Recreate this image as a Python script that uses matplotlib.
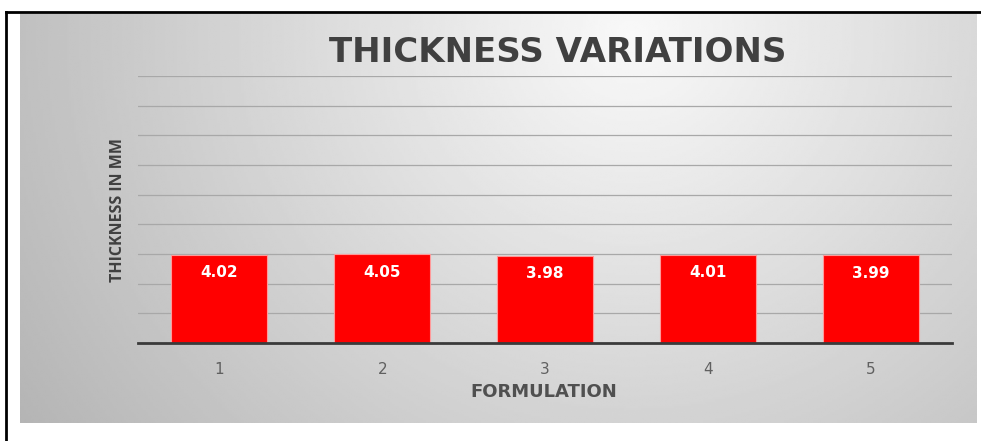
import matplotlib
matplotlib.use("Agg")
import matplotlib.pyplot as plt
import numpy as np
from matplotlib.lines import Line2D

# data
formulations = ["1", "2", "3", "4", "5"]
thickness = [4.02, 4.05, 3.98, 4.01, 3.99]
value_labels = ["4.02", "4.05", "3.98", "4.01", "3.99"]

W, H = 981, 441
fig = plt.figure(figsize=(W / 100, H / 100), dpi=100)
fig.patch.set_facecolor("white")


def fx(px):
    return px / W


def fy(px):
    return 1 - px / H


# gray radial-gradient panel behind the chart
bg = fig.add_axes([fx(20), fy(423), fx(977) - fx(20), fy(14) - fy(423)], zorder=0)
gx, gy = np.meshgrid(np.linspace(0, 1, 400), np.linspace(0, 1, 200))
dist = np.sqrt(((gx - 0.64) / 0.72) ** 2 + ((gy - 0.05) / 1.6) ** 2)
shade = np.clip(0.975 - 0.25 * dist, 0.71, 0.98)
bg.imshow(shade, cmap="gray", vmin=0, vmax=1, aspect="auto",
          extent=[0, 1, 1, 0], interpolation="bilinear")
bg.axis("off")

# frame lines (left and top)
fig.add_artist(Line2D([fx(6), fx(6)], [0, fy(12)], color="black", lw=2))
fig.add_artist(Line2D([fx(6), 1], [fy(12), fy(12)], color="black", lw=2))

ax = fig.add_axes([fx(138), fy(343), fx(952) - fx(138), fy(76) - fy(343)], zorder=1)
ax.set_facecolor("none")

x = np.arange(len(formulations))
step = 1.35
bars = ax.bar(x, thickness, width=0.59, color="#ff0000",
              edgecolor="#ff9a9a", linewidth=0.8, zorder=3)

for b, lab in zip(bars, value_labels):
    ax.text(b.get_x() + b.get_width() / 2, b.get_height() - 0.82, lab,
            ha="center", va="center", color="white", fontsize=11,
            fontweight="bold", zorder=4)

ax.set_xlim(-0.5, len(formulations) - 0.5)
ax.set_ylim(0, step * 9)
ax.set_yticks(np.arange(1, 10) * step)
ax.yaxis.grid(True, color="#a8a8a8", linewidth=0.9)
ax.set_axisbelow(True)
ax.tick_params(axis="y", left=False, labelleft=False)
ax.set_xticks(x)
ax.set_xticklabels(formulations, fontsize=11, color="#606060")
ax.tick_params(axis="x", length=0, pad=14)
for s in ["top", "right", "left"]:
    ax.spines[s].set_visible(False)
ax.spines["bottom"].set_color("#3a3a3a")
ax.spines["bottom"].set_linewidth(2)
ax.spines["bottom"].set_zorder(5)

fig.text(fx(558), fy(52), "THICKNESS VARIATIONS", ha="center", va="center",
         fontsize=24.5, fontweight="bold", color="#404040")
fig.text(fx(544), fy(392), "FORMULATION", ha="center", va="center",
         fontsize=13, fontweight="bold", color="#505050")
fig.text(fx(118), fy(210), "THICKNESS IN MM", ha="center", va="center",
         rotation=90, fontsize=11.5, fontweight="bold", color="#404040",
         family=["Liberation Sans Narrow", "Open Sans", "DejaVu Sans"])

fig.savefig("out.png", dpi=100)
